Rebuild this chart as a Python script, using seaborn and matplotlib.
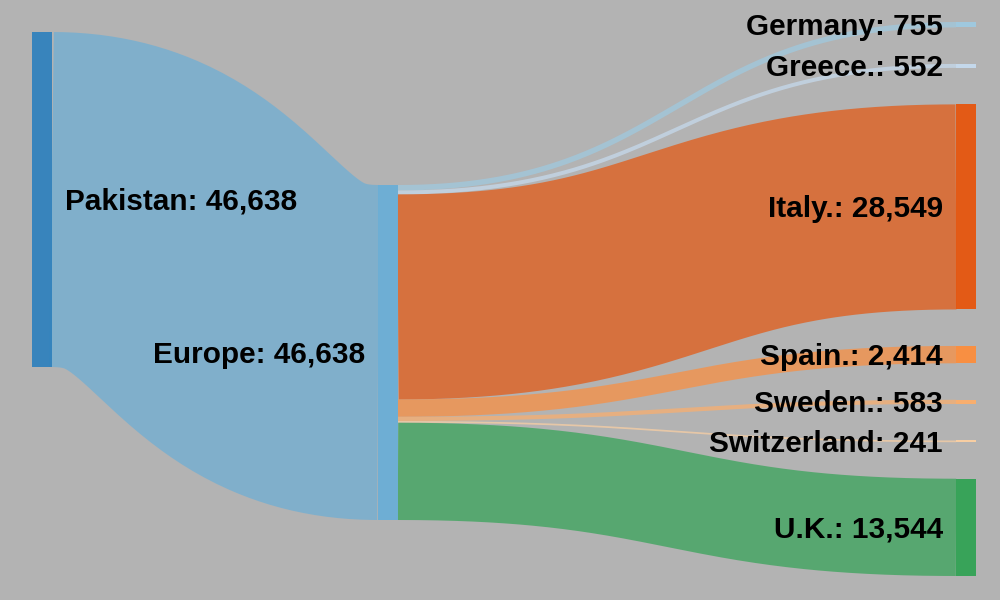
import numpy as np
import matplotlib
matplotlib.use("Agg")
import matplotlib.pyplot as plt
import seaborn as sns

# data
source_name = "Pakistan"
hub_name = "Europe"
countries = ["Germany", "Greece.", "Italy.", "Spain.", "Sweden.", "Switzerland", "U.K."]
counts = [755, 552, 28549, 2414, 583, 241, 13544]

# d3 category20c style colours
pal = sns.color_palette(["#3182bd", "#6baed6", "#9ecae1", "#c6dbef",
                         "#e6550d", "#fd8d3c", "#fdae6b", "#fdd0a2", "#31a354"])
source_color = pal[0]
hub_color = pal[1]
country_colors = pal[2:]

bg = "#b3b3b3"
total = sum(counts)

sns.set_theme(style="white")
plt.rcParams["font.family"] = ["Liberation Sans", "DejaVu Sans"]

DPI = 100
fig = plt.figure(figsize=(10, 6), dpi=DPI)
fig.patch.set_facecolor(bg)
ax = fig.add_axes([0, 0, 1, 1])
ax.set_facecolor(bg)
ax.set_xlim(0, 1000)
ax.set_ylim(600, 0)
ax.axis("off")

# layout
node_w = 20
col_x = [32, 378, 956]
top_right, bottom_right = 22, 576
pad = 36.5
ky = (bottom_right - top_right - pad * (len(counts) - 1)) / total
src_top = 32
hub_top = 185


def link(x0, x1, y0, y1, width_px, color, alpha=0.7):
    # horizontal bezier drawn as a thick stroke, like sankeyLinkHorizontal
    t = np.linspace(0, 1, 200)
    xm = (x0 + x1) / 2
    bx = (1 - t) ** 3 * x0 + 3 * (1 - t) ** 2 * t * xm + 3 * (1 - t) * t ** 2 * xm + t ** 3 * x1
    s = 3 * (1 - t) * t ** 2 + t ** 3
    by = y0 + (y1 - y0) * s
    ax.plot(bx, by, color=color, alpha=alpha, lw=max(width_px, 1) * 72 / DPI,
            solid_capstyle="butt", solid_joinstyle="round")


h = total * ky
# source -> hub link
link(col_x[0] + node_w - 0.5, col_x[1], src_top + h / 2, hub_top + h / 2, h, hub_color)

# hub -> countries
y_out = hub_top
y_in = top_right
right_pos = []
for c, v, col in zip(countries, counts, country_colors):
    w = v * ky
    link(col_x[1] + node_w, col_x[2], y_out + w / 2, y_in + w / 2, w, col)
    right_pos.append((y_in, w))
    y_out += w
    y_in += w + pad

# nodes
ax.add_patch(plt.Rectangle((col_x[0], src_top), node_w, h, color=source_color, alpha=0.95, lw=0, zorder=3))
ax.add_patch(plt.Rectangle((col_x[1], hub_top), node_w, h, color=hub_color, alpha=0.95, lw=0, zorder=3))
for (y, w), col in zip(right_pos, country_colors):
    ax.add_patch(plt.Rectangle((col_x[2], y), node_w, max(w, 1.5), color=col, alpha=0.95, lw=0, zorder=3))

# labels, baseline at centre + 0.35em
fs = 21.4
dy = 0.35 * fs * DPI / 72
style = dict(va="baseline", fontsize=fs, fontweight="bold", color="black", zorder=4)
ax.text(col_x[0] + node_w + 13, src_top + h / 2 + dy, f"{source_name}: {total:,}", ha="left", **style)
ax.text(col_x[1] - 13, hub_top + h / 2 + dy, f"{hub_name}: {total:,}", ha="right", **style)
for c, v, (y, w) in zip(countries, counts, right_pos):
    ax.text(col_x[2] - 13, y + w / 2 + dy, f"{c}: {v:,}", ha="right", **style)

fig.savefig("out.png", dpi=DPI, facecolor=bg)
